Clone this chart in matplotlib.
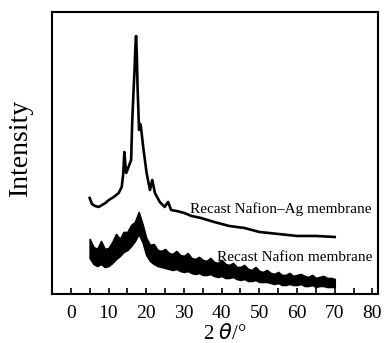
import numpy as np
import matplotlib.pyplot as plt

# Дифрактограммы (интенсивность в условных единицах)
ag_x = [5.0, 5.6, 6.4, 7.4, 8.3, 9.2, 10.1, 11.4, 12.7, 13.5, 13.9, 14.2, 14.5,
        14.7, 15.3, 16.0, 16.3, 16.6, 16.9, 17.1, 17.3, 17.5, 17.7, 18.1, 18.4,
        18.6, 19.2, 20.1, 21.0, 21.6, 22.3, 23.6, 24.9, 25.4, 25.8, 26.6, 28.0,
        30.1, 32.0, 34.5, 38.0, 42.0, 46.0, 50.0, 55.0, 60.0, 65.0, 70.0]
ag_y = [96, 90, 88, 87, 89, 91, 94, 97, 101, 107, 120, 142, 128,
        121, 127, 134, 174, 200, 224, 245, 258, 240, 207, 164, 170,
        167, 147, 121, 104, 114, 101, 92, 87, 90, 92, 84, 83,
        81, 78, 76, 72, 68, 66, 62, 60, 58, 58, 57]

nafion_x = list(range(5, 71))
nafion_upper = [55, 47, 45, 53, 45, 46, 52, 60, 55, 62, 62, 69, 72, 82, 70, 56,
                49, 50, 44, 43, 45, 41, 40, 43, 39, 38, 41, 36, 35, 37, 34, 33,
                36, 32, 31, 34, 30, 29, 31, 27, 27, 29, 25, 24, 27, 23, 22, 24,
                21, 20, 22, 19, 19, 21, 18, 19, 20, 18, 17, 19, 16, 17, 18, 16,
                16, 15]
nafion_lower = [36, 30, 28, 30, 27, 28, 31, 35, 38, 42, 44, 48, 53, 60, 52, 39,
                33, 30, 28, 27, 26, 25, 24, 25, 23, 22, 23, 21, 20, 21, 19, 19,
                20, 18, 17, 18, 16, 16, 17, 15, 14, 15, 13, 13, 14, 12, 12, 12,
                11, 10, 11, 9, 9, 10, 9, 9, 10, 8, 8, 9, 7, 8, 8, 7,
                7, 7]

xticks = [0, 10, 20, 30, 40, 50, 60, 70, 80]

plt.rcParams['font.family'] = ['Liberation Serif', 'DejaVu Serif']

fig = plt.figure(figsize=(3.85, 3.43), dpi=100)
ax = fig.add_axes([0.135, 0.143, 0.847, 0.822])

ax.plot(ag_x, ag_y, color='black', linewidth=1.9)
ax.fill_between(nafion_x, nafion_lower, nafion_upper, color='black',
                linewidth=1.2, edgecolor='black')

ax.text(31.5, 85, 'Recast Nafion\u2013Ag membrane', fontsize=11,
        va='center', ha='left')
ax.text(38.8, 36, 'Recast Nafion membrane', fontsize=11,
        va='center', ha='left')

ax.set_xlim(-5, 81.5)
ax.set_ylim(0, 282)
ax.set_xticks(xticks)
ax.set_xticks(np.arange(-5, 81, 5), minor=True)
ax.set_yticks([])
ax.tick_params(axis='x', which='both', direction='in', length=4, width=1.2,
               labelsize=14, pad=8)
for s in ax.spines.values():
    s.set_linewidth(1.5)

ax.set_xlabel(r'2 $\it{\theta}$/°', fontsize=15)
ax.xaxis.set_label_coords(0.53, -0.105)
ax.set_ylabel('Intensity', fontsize=20)
ax.yaxis.set_label_coords(-0.058, 0.52)

fig.savefig('out.png', dpi=100)
